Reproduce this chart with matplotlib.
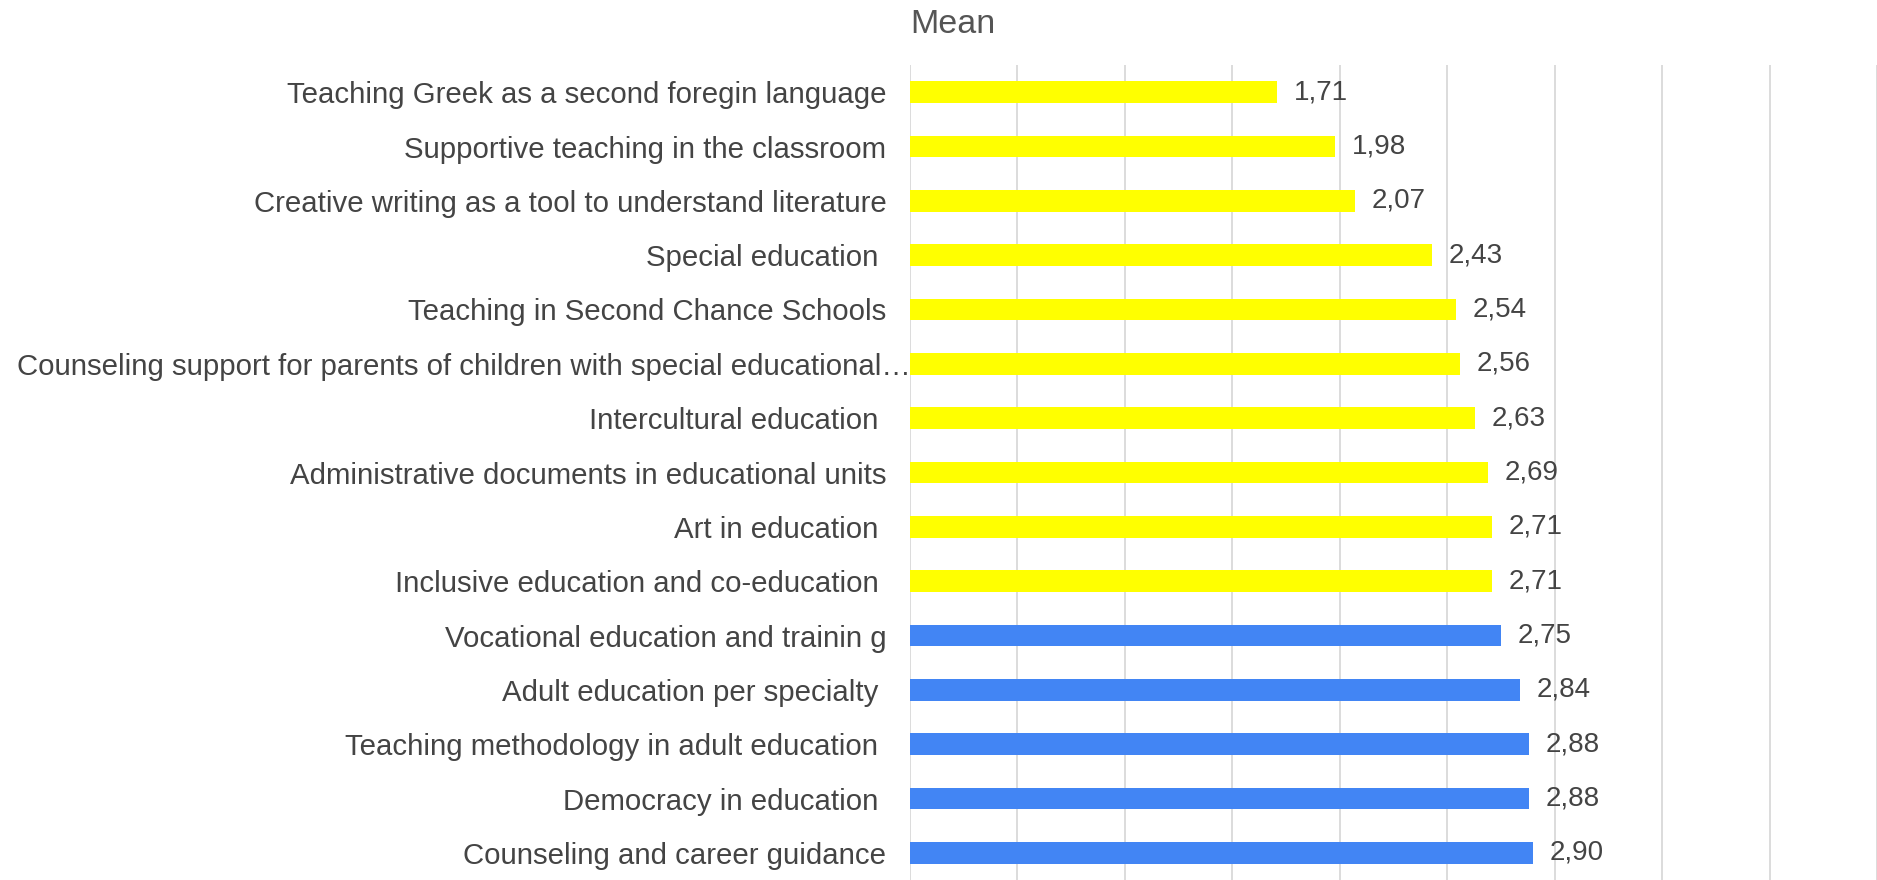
import numpy as np
import matplotlib.pyplot as plt

# Mean score per training topic (top to bottom as shown)
topics = [
    "Teaching Greek as a second foregin language",
    "Supportive teaching in the classroom",
    "Creative writing as a tool to understand literature",
    "Special education ",
    "Teaching in Second Chance Schools",
    "Counseling support for parents of children with special educational\u2026",
    "Intercultural education ",
    "Administrative documents in educational units",
    "Art in education ",
    "Inclusive education and co-education ",
    "Vocational education and trainin g",
    "Adult education per specialty ",
    "Teaching methodology in adult education ",
    "Democracy in education ",
    "Counseling and career guidance",
]
means = [1.71, 1.98, 2.07, 2.43, 2.54, 2.56, 2.63, 2.69, 2.71, 2.71,
         2.75, 2.84, 2.88, 2.88, 2.90]
n_yellow = 10

YELLOW = "#ffff00"
BLUE = "#4285f4"
TEXT = "#444444"

plt.rcParams['font.family'] = ['Liberation Sans', 'DejaVu Sans']

W, H = 1877, 880
fig = plt.figure(figsize=(W / 100, H / 100), dpi=100)
ax = fig.add_axes([910 / W, 0, 1 - 910 / W, 1 - 65 / H])

y = np.arange(len(topics))
colors = [YELLOW] * n_yellow + [BLUE] * (len(topics) - n_yellow)
bars = ax.barh(y, means, height=0.4, color=colors, zorder=3)

ax.set_ylim(len(topics) - 0.5, -0.5)
ax.set_xlim(0, 4.5)
ax.set_xticks(np.arange(0, 4.51, 0.5))
ax.set_xticklabels([])
ax.grid(axis='x', color='#d6d6d6', linewidth=1.2, zorder=0)
ax.tick_params(axis='both', length=0)
for s in ax.spines.values():
    s.set_visible(False)

ax.set_yticks(y)
ax.set_yticklabels(topics, fontsize=21.2, color=TEXT)
ax.tick_params(axis='y', pad=17)

# the truncated label runs up to the axis
long_tick = ax.yaxis.get_major_ticks()[5]
long_tick.label1.set_x(24 / (W - 910))

ax.bar_label(bars, labels=[f"{v:.2f}".replace('.', ',') for v in means],
             padding=12, fontsize=20, color=TEXT)

fig.text(910 / W, 1 - 33 / H, "Mean", fontsize=24.5, color="#555555",
         va='baseline', ha='left')

fig.savefig("out.png", dpi=100)
